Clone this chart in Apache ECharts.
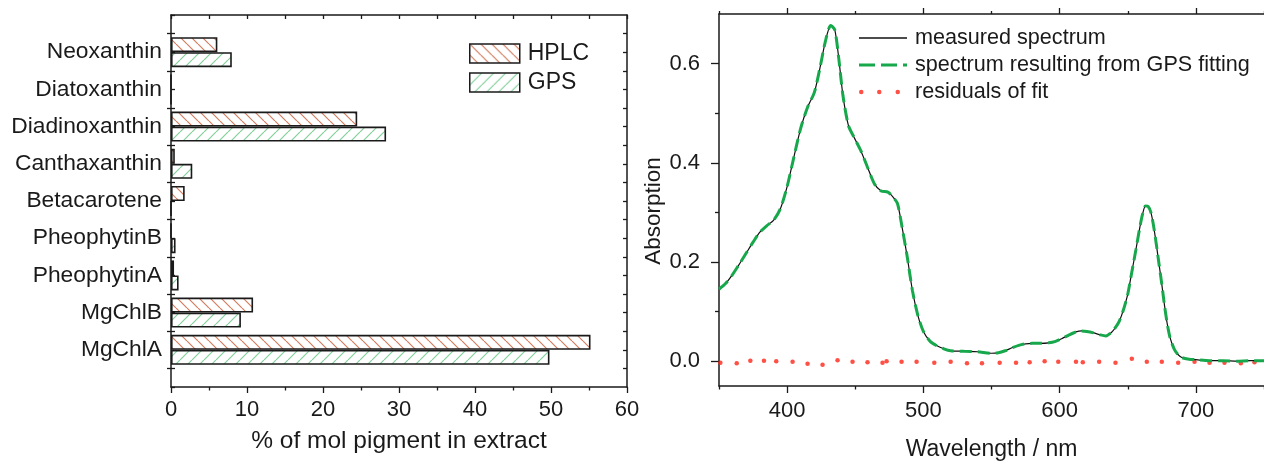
<!DOCTYPE html>
<html>
<head>
<meta charset="utf-8">
<script src="https://cdn.jsdelivr.net/npm/echarts@6/dist/echarts.min.js"></script>
<style>
  html, body { margin: 0; padding: 0; background: #ffffff; }
  #chart { width: 1264px; height: 464px; }
</style>
</head>
<body>
<div id="chart"></div>
<script>
// ---- Pigment composition (% of mol pigment in extract) ----
const pigments = ['MgChlA', 'MgChlB', 'PheophytinA', 'PheophytinB', 'Betacarotene',
                  'Canthaxanthin', 'Diadinoxanthin', 'Diatoxanthin', 'Neoxanthin'];
const hplcShare = [55.2, 10.8, 0.4, 0, 1.8, 0.5, 24.5, 0, 6.1];
const gpsShare  = [49.8, 9.2, 1.0, 0.6, 0, 2.8, 28.3, 0, 8.0];
const shareTicks = [0, 10, 20, 30, 40, 50, 60];

// ---- Absorption spectrum ----
const wavelength = [350, 355, 360, 365, 370, 375, 380, 385, 390, 395, 400, 405, 410, 415, 420, 424, 428, 432,
  435, 438, 441, 445, 449, 454, 459, 464, 469, 474, 478, 481, 484, 488, 492, 496, 500, 505, 510, 515, 520,
  530, 540, 550, 555, 560, 565, 570, 575, 580, 586, 592, 597, 602, 607, 612, 616, 620, 625, 630, 634, 638,
  641, 644, 647, 650, 653, 656, 659, 661, 663, 665, 667, 669, 671, 673, 675, 677, 679, 681, 684, 687, 690,
  695, 700, 710, 720, 730, 740, 750];
const measuredAbs = [0.145, 0.157, 0.175, 0.196, 0.218, 0.240, 0.260, 0.273, 0.284, 0.307, 0.352, 0.412,
  0.470, 0.512, 0.542, 0.590, 0.644, 0.677, 0.668, 0.608, 0.535, 0.475, 0.452, 0.425, 0.391, 0.358, 0.343,
  0.341, 0.330, 0.318, 0.276, 0.213, 0.142, 0.092, 0.060, 0.040, 0.031, 0.025, 0.021, 0.020, 0.019, 0.016,
  0.017, 0.021, 0.027, 0.032, 0.035, 0.036, 0.036, 0.037, 0.040, 0.046, 0.053, 0.059, 0.061, 0.060, 0.057,
  0.053, 0.051, 0.058, 0.068, 0.082, 0.105, 0.135, 0.180, 0.225, 0.272, 0.298, 0.313, 0.312, 0.300, 0.272,
  0.235, 0.195, 0.155, 0.112, 0.075, 0.048, 0.025, 0.013, 0.007, 0.004, 0.003, 0.001, 0.001, 0.000, 0.001,
  0.001];
const fittedAbs = [0.145, 0.157, 0.175, 0.196, 0.218, 0.240, 0.260, 0.273, 0.284, 0.307, 0.352, 0.412,
  0.470, 0.512, 0.542, 0.590, 0.644, 0.677, 0.668, 0.608, 0.535, 0.475, 0.452, 0.425, 0.391, 0.358, 0.343,
  0.341, 0.330, 0.318, 0.276, 0.213, 0.142, 0.092, 0.060, 0.040, 0.031, 0.025, 0.021, 0.020, 0.019, 0.016,
  0.017, 0.021, 0.027, 0.032, 0.035, 0.036, 0.036, 0.037, 0.040, 0.046, 0.053, 0.059, 0.061, 0.060, 0.057,
  0.053, 0.051, 0.058, 0.068, 0.082, 0.105, 0.135, 0.180, 0.225, 0.272, 0.298, 0.313, 0.312, 0.300, 0.272,
  0.235, 0.195, 0.155, 0.112, 0.075, 0.048, 0.025, 0.013, 0.007, 0.004, 0.003, 0.001, 0.001, 0.000, 0.001,
  0.001];
const residualNm = [351, 363, 373, 383, 392, 404, 415, 426, 437, 448, 459, 470, 473, 484, 495, 508, 520,
  532, 543, 556, 568, 578, 589, 599, 612, 617, 629, 641, 653, 664, 675, 687, 699, 710, 721, 733, 743];
const residualAbs = [-0.003, -0.004, 0.001, 0.001, 0.000, -0.001, -0.005, -0.007, 0.002, -0.001, -0.002,
  -0.003, 0.000, -0.001, -0.001, -0.003, -0.001, -0.004, -0.004, -0.003, -0.003, -0.002, 0.000, -0.001,
  -0.001, -0.002, -0.001, -0.003, 0.005, -0.001, -0.001, -0.003, -0.001, -0.003, -0.003, -0.004, -0.002];
const wavelengthTicks = [400, 500, 600, 700];
const wavelengthMinorTicks = [350, 450, 550, 650, 750];
const absorptionTicks = [0, 0.2, 0.4, 0.6];
const absorptionMinorTicks = [0.1, 0.3, 0.5];

// ---- helpers ----
const FONT = "'Liberation Sans', Arial, sans-serif";
const INK = '#1a1a1a';

// hatch tile: dir > 0 draws "/" strokes, dir < 0 draws "\" strokes
function hatch(color, dir, size) {
  const c = document.createElement('canvas');
  c.width = size; c.height = size;
  const g = c.getContext('2d');
  g.fillStyle = '#ffffff';
  g.fillRect(0, 0, size, size);
  g.strokeStyle = color;
  g.lineWidth = 1.2;
  g.beginPath();
  for (let k = -1; k <= 1; k++) {
    if (dir > 0) { g.moveTo(k * size, size); g.lineTo(k * size + size, 0); }
    else { g.moveTo(k * size, 0); g.lineTo(k * size + size, size); }
  }
  g.stroke();
  return c;
}
const hplcFill = { image: hatch('#d47d60', -1, 11), repeat: 'repeat' };
const gpsFill = { image: hatch('#84d09c', 1, 12), repeat: 'repeat' };

const halfSteps = [];
for (let v = 0.5; v < 10; v += 1) halfSteps.push(v);
const allHalfSteps = [];
for (let v = 0.5; v < 10; v += 0.5) allHalfSteps.push(v);

const categoryRows = [''].concat(pigments, ['']);
const padRow = arr => [null].concat(arr, [null]);

const axisLine = { show: true, onZero: false, lineStyle: { color: INK, width: 1.5 } };
const noLine = { show: false, onZero: false };
const tickLine = { color: INK, width: 1.3 };
const hiddenLabel = { show: false };
const noSplit = { show: false };

const option = {
  backgroundColor: '#ffffff',
  animation: false,
  textStyle: { fontFamily: FONT, color: INK },
  grid: [
    { left: 171, right: 637, top: 15, bottom: 77, containLabel: false, outerBoundsMode: 'none' },
    { left: 719, right: 0, top: 14, bottom: 78, containLabel: false, outerBoundsMode: 'none' }
  ],
  legend: [
    {
      selectedMode: false,
      orient: 'vertical',
      left: 469, top: 42, padding: 0,
      itemWidth: 50, itemHeight: 19, itemGap: 6,
      icon: 'rect',
      itemStyle: { borderColor: INK, borderWidth: 1.5 },
      textStyle: { fontSize: 23, color: INK, fontFamily: FONT, padding: [0, 0, 0, 3] },
      data: ['HPLC', 'GPS']
    },
    {
      selectedMode: false,
      orient: 'vertical',
      left: 859, top: 27, padding: 0,
      itemWidth: 48, itemHeight: 14, itemGap: 5,
      itemStyle: { borderWidth: 0 },
      textStyle: { fontSize: 21.6, color: INK, fontFamily: FONT, padding: [0, 0, 0, 3] },
      data: [
        { name: 'measured spectrum', icon: 'path://M0,0 L48,0 L48,1.3 L0,1.3 Z' },
        { name: 'spectrum resulting from GPS fitting',
          icon: 'path://M0,0 L16,0 L16,3 L0,3 Z M22,0 L38,0 L38,3 L22,3 Z M44,0 L48,0 L48,3 L44,3 Z' },
        { name: 'residuals of fit',
          icon: 'path://M0,0 L0,0 M48,4.5 L48,4.5 M0,2.25 A2.25,2.25 0 1,1 4.5,2.25 A2.25,2.25 0 1,1 0,2.25 Z M18,2.25 A2.25,2.25 0 1,1 22.5,2.25 A2.25,2.25 0 1,1 18,2.25 Z M36.5,2.25 A2.25,2.25 0 1,1 41,2.25 A2.25,2.25 0 1,1 36.5,2.25 Z' }
      ]
    }
  ],
  xAxis: [
    { // bottom axis, pigment share
      gridIndex: 0, type: 'value', position: 'bottom', min: 0, max: 60, interval: 10,
      axisLine: axisLine,
      axisTick: { show: true, length: 6, lineStyle: tickLine },
      minorTick: { show: true, splitNumber: 2, length: 3.5, lineStyle: tickLine },
      axisLabel: { fontSize: 22, color: INK, margin: 12, fontFamily: FONT,
                   customValues: shareTicks },
      splitLine: noSplit,
      name: '% of mol pigment in extract', nameLocation: 'middle', nameGap: 42,
      nameTextStyle: { fontSize: 24.5, color: INK, fontFamily: FONT }
    },
    { // top frame, pigment share
      gridIndex: 0, type: 'value', position: 'top', min: 0, max: 60, interval: 5,
      axisLine: axisLine,
      axisTick: { show: true, inside: true, length: 4, lineStyle: tickLine },
      axisLabel: hiddenLabel, splitLine: noSplit
    },
    { // bottom axis, wavelength
      gridIndex: 1, type: 'value', position: 'bottom', min: 350, max: 750, interval: 50,
      axisLine: axisLine,
      axisTick: { show: true, length: 7, lineStyle: tickLine, customValues: wavelengthTicks },
      axisLabel: { fontSize: 22, color: INK, margin: 14, fontFamily: FONT,
                   customValues: wavelengthTicks },
      splitLine: noSplit,
      name: 'Wavelength / nm', nameLocation: 'middle', nameGap: 52,
      nameTextStyle: { fontSize: 23, color: INK, fontFamily: FONT }
    },
    { // minor ticks, wavelength bottom
      gridIndex: 1, type: 'value', position: 'bottom', min: 350, max: 750, interval: 50,
      axisLine: noLine,
      axisTick: { show: true, length: 3.5, lineStyle: tickLine, customValues: wavelengthMinorTicks },
      axisLabel: hiddenLabel, splitLine: noSplit
    },
    { // top frame, wavelength
      gridIndex: 1, type: 'value', position: 'top', min: 350, max: 750, interval: 50,
      axisLine: axisLine,
      axisTick: { show: true, length: 6, lineStyle: tickLine, customValues: wavelengthTicks },
      axisLabel: hiddenLabel, splitLine: noSplit
    },
    { // minor ticks, wavelength top
      gridIndex: 1, type: 'value', position: 'top', min: 350, max: 750, interval: 50,
      axisLine: noLine,
      axisTick: { show: true, length: 3, lineStyle: tickLine, customValues: wavelengthMinorTicks },
      axisLabel: hiddenLabel, splitLine: noSplit
    }
  ],
  yAxis: [
    { // pigment rows
      gridIndex: 0, type: 'category', position: 'left', data: categoryRows, boundaryGap: false,
      axisLine: axisLine,
      axisTick: { show: true, inside: true, length: 4, interval: 0, lineStyle: tickLine },
      axisLabel: { interval: 0, fontSize: 22.8, color: INK, margin: 9, fontFamily: FONT },
      splitLine: noSplit
    },
    { // crossing ticks between pigment rows
      gridIndex: 0, type: 'value', position: 'left', min: 0, max: 10, interval: 1, offset: -4,
      axisLine: noLine,
      axisTick: { show: true, length: 8, lineStyle: tickLine, customValues: halfSteps },
      axisLabel: hiddenLabel, splitLine: noSplit
    },
    { // right frame of pigment panel
      gridIndex: 0, type: 'value', position: 'right', min: 0, max: 10, interval: 1,
      axisLine: axisLine,
      axisTick: { show: true, inside: true, length: 4, lineStyle: tickLine, customValues: allHalfSteps },
      axisLabel: hiddenLabel, splitLine: noSplit
    },
    { // absorption
      gridIndex: 1, type: 'value', position: 'left', min: -0.05, max: 0.7,
      axisLine: axisLine,
      axisTick: { show: true, length: 8, lineStyle: tickLine, customValues: absorptionTicks },
      axisLabel: { fontSize: 22, color: INK, margin: 19, fontFamily: FONT,
                   customValues: absorptionTicks, formatter: v => v.toFixed(1) },
      splitLine: noSplit,
      name: 'Absorption', nameLocation: 'middle', nameGap: 52, nameRotate: 90,
      nameTextStyle: { fontSize: 22.5, color: INK, fontFamily: FONT, padding: [0, 22, 0, 0] }
    },
    { // minor ticks, absorption
      gridIndex: 1, type: 'value', position: 'left', min: -0.05, max: 0.7,
      axisLine: noLine,
      axisTick: { show: true, length: 4, lineStyle: tickLine, customValues: absorptionMinorTicks },
      axisLabel: hiddenLabel, splitLine: noSplit
    }
  ],
  series: [
    {
      name: 'HPLC', type: 'bar', xAxisIndex: 0, yAxisIndex: 0,
      data: padRow(hplcShare), barWidth: 15, barGap: '0%',
      itemStyle: { color: hplcFill, borderColor: INK, borderWidth: 1.6 }
    },
    {
      name: 'GPS', type: 'bar', xAxisIndex: 0, yAxisIndex: 0,
      data: padRow(gpsShare), barWidth: 15, barGap: '0%',
      itemStyle: { color: gpsFill, borderColor: INK, borderWidth: 1.6 }
    },
    {
      name: 'measured spectrum', type: 'line', xAxisIndex: 2, yAxisIndex: 3,
      data: wavelength.map((w, i) => [w, measuredAbs[i]]),
      symbol: 'none', smooth: 0.25, color: '#111111',
      lineStyle: { color: '#111111', width: 1.2 }
    },
    {
      name: 'spectrum resulting from GPS fitting', type: 'line', xAxisIndex: 2, yAxisIndex: 3,
      data: wavelength.map((w, i) => [w, fittedAbs[i]]),
      symbol: 'none', smooth: 0.25, color: '#17a84c',
      lineStyle: { color: '#17a84c', width: 3, type: [12, 6] }
    },
    {
      name: 'residuals of fit', type: 'scatter', xAxisIndex: 2, yAxisIndex: 3,
      data: residualNm.map((w, i) => [w, residualAbs[i]]),
      symbol: 'circle', symbolSize: 4.5, color: '#ff2418',
      itemStyle: { color: '#ff2418' }
    }
  ]
};

const chart = echarts.init(document.getElementById('chart'), null, { renderer: 'canvas' });
chart.setOption(option);
</script>
</body>
</html>
